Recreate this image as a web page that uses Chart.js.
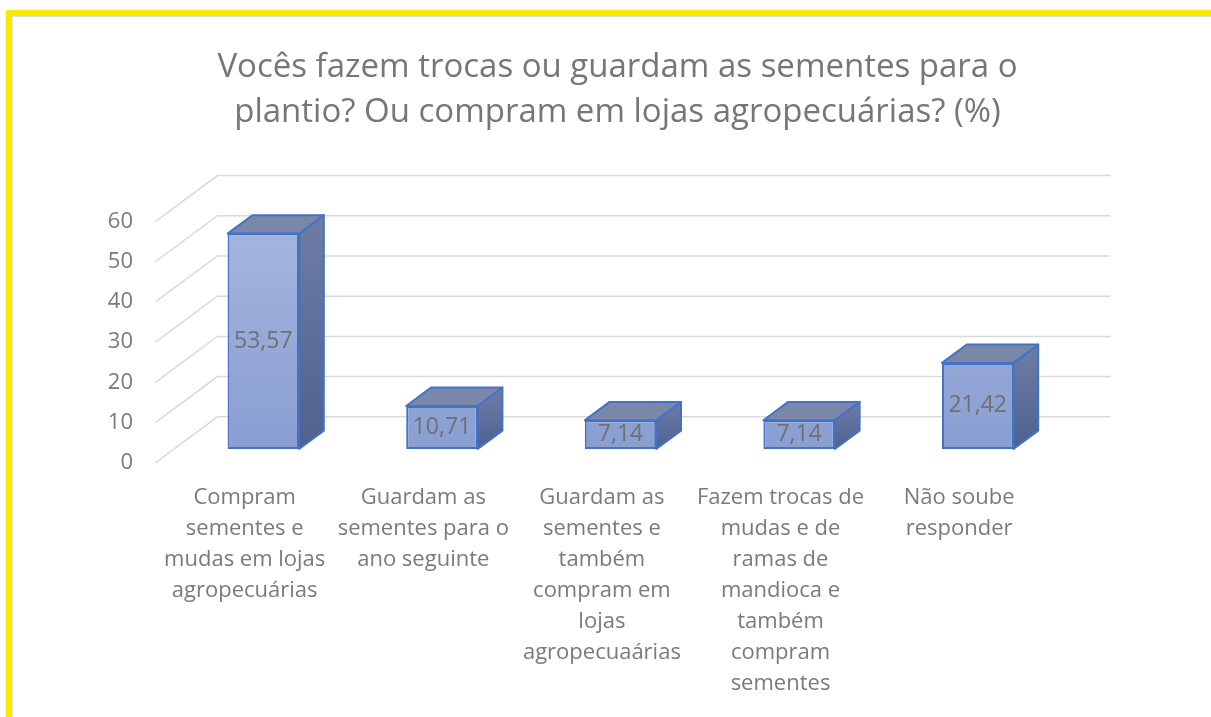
<!DOCTYPE html>
<html>
<head>
<meta charset="utf-8">
<script src="https://cdn.jsdelivr.net/npm/chart.js@4"></script>
<style>
  body { margin: 0; background: #fff; }
  #wrap { position: relative; width: 1211px; height: 717px; overflow: hidden; }
  #frame {
    position: absolute; left: 6px; top: 10px; right: -20px; bottom: -20px;
    border-top: 6px solid #f6ea00; border-left: 6px solid #f6ea00;
    pointer-events: none;
  }
  #frame:after {
    content: ""; position: absolute; left: 0; top: 0; right: 0; bottom: 0;
    border-top: 1px solid #dcdcdc; border-left: 1px solid #e6e6e6;
  }
</style>
</head>
<body>
<div id="wrap">
  <canvas id="bars"></canvas>
  <div id="frame"></div>
</div>
<script>
document.addEventListener("DOMContentLoaded", function(e){

  // data
  let categories = [
    ["Compram", "sementes e", "mudas em lojas", "agropecuárias"],
    ["Guardam as", "sementes para o", "ano seguinte"],
    ["Guardam as", "sementes e", "também", "compram em", "lojas", "agropecuaárias"],
    ["Fazem trocas de", "mudas e de", "ramas de", "mandioca e", "também", "compram", "sementes"],
    ["Não soube", "responder"]
  ]
  let percentages = [53.57, 10.71, 7.14, 7.14, 21.42]
  let yTicks = [0, 10, 20, 30, 40, 50, 60]
  let titleLines = [
    "Vocês fazem trocas ou guardam as sementes para o",
    "plantio? Ou compram em lojas agropecuárias? (%)"
  ]

  // fake 3d: full depth of the floor, bars sit between 0.3 and 0.7 of it
  const depth = { dx: 62, dy: -46 }
  const barFront = 0.3, barBack = 0.7
  const gray = "#7a7a7a"
  const font = "'Open Sans', 'Noto Sans', sans-serif"

  function off(t) { return { x: depth.dx * (t - barFront), y: depth.dy * (t - barFront) } }

  const wallsPlugin = {
    id: "walls",
    beforeDatasetsDraw(chart) {
      let c = chart.ctx
      let area = chart.chartArea
      let yScale = chart.scales.y
      let f = off(0), b = off(1)
      c.save()
      c.strokeStyle = "#d9d9d9"
      c.lineWidth = 1.5
      yTicks.forEach(v => {
        let y = yScale.getPixelForValue(v)
        c.beginPath()
        c.moveTo(area.left + f.x, y + f.y)
        c.lineTo(area.left + b.x, y + b.y)
        c.lineTo(area.right + b.x, y + b.y)
        c.stroke()
      })
      c.restore()
    },
    afterDatasetsDraw(chart) {
      let c = chart.ctx
      let meta = chart.getDatasetMeta(0)
      let d = off(barBack)
      c.save()
      c.lineWidth = 2
      c.lineJoin = "round"
      c.strokeStyle = "#4472c4"
      meta.data.forEach((bar, i) => {
        let x1 = bar.x - bar.width / 2, x2 = bar.x + bar.width / 2
        let top = bar.y, base = bar.base

        // right side face
        let g = c.createLinearGradient(0, top + d.y, 0, base)
        g.addColorStop(0, "#6d7da6")
        g.addColorStop(1, "#4e6190")
        c.fillStyle = g
        c.beginPath()
        c.moveTo(x2, top)
        c.lineTo(x2 + d.x, top + d.y)
        c.lineTo(x2 + d.x, base + d.y)
        c.lineTo(x2, base)
        c.closePath()
        c.fill()
        c.stroke()

        // top face
        c.fillStyle = "#7b87a9"
        c.beginPath()
        c.moveTo(x1, top)
        c.lineTo(x1 + d.x, top + d.y)
        c.lineTo(x2 + d.x, top + d.y)
        c.lineTo(x2, top)
        c.closePath()
        c.fill()
        c.stroke()

        // value label on the front face
        c.fillStyle = "#707070"
        c.font = "23px " + font
        c.textAlign = "center"
        c.textBaseline = "middle"
        c.fillText(percentages[i].toFixed(2).replace(".", ","), bar.x, (top + base) / 2)
      })
      c.restore()
    }
  }

  function frontFill(ctx) {
    let area = ctx.chart.chartArea
    if (!area) return "#95a8d8"
    let g = ctx.chart.ctx.createLinearGradient(0, area.top, 0, area.bottom)
    g.addColorStop(0, "#a6b7e0")
    g.addColorStop(1, "#899ed1")
    return g
  }

  let bars = document.getElementById("bars").getContext("2d")

  const columnChart = new Chart(bars, {
    type: "bar",
    data: {
      labels: categories,
      datasets: [{
        data: percentages,
        backgroundColor: frontFill,
        borderColor: "#4472c4",
        borderWidth: 2,
        borderSkipped: false,
        barPercentage: 0.4,
        categoryPercentage: 1
      }]
    },
    options: {
      responsive: true,
      maintainAspectRatio: false,
      animation: false,
      layout: { padding: { left: 24, right: 0, top: 0, bottom: 0 } },
      plugins: {
        legend: { display: false },
        tooltip: { enabled: false },
        title: {
          display: true,
          text: titleLines,
          color: "#767676",
          font: { family: font, size: 33, weight: "normal", lineHeight: 1.36 },
          padding: { top: 45, bottom: 73 }
        }
      },
      scales: {
        x: {
          grid: { display: false, drawTicks: false },
          border: { display: false },
          ticks: {
            color: gray,
            font: { family: font, size: 22, lineHeight: 1.41 },
            padding: 33,
            maxRotation: 0,
            autoSkip: false,
            labelOffset: off(0).x
          },
          afterFit(scale) { scale.height = 268 }
        },
        y: {
          min: 0,
          max: 60,
          grid: { display: false, drawTicks: false },
          border: { display: false },
          ticks: {
            stepSize: 10,
            color: gray,
            font: { family: font, size: 22 },
            padding: 41,
            labelOffset: off(0).y
          },
          afterFit(scale) { scale.width = 150 }
        },
        // empty right axis, only keeps room for the depth of the walls
        yRight: {
          position: "right",
          min: 0,
          max: 60,
          grid: { display: false, drawTicks: false },
          border: { display: false },
          ticks: { display: false },
          afterFit(scale) { scale.width = 144 }
        }
      }
    },
    plugins: [wallsPlugin]
  })
})
</script>
</body>
</html>
